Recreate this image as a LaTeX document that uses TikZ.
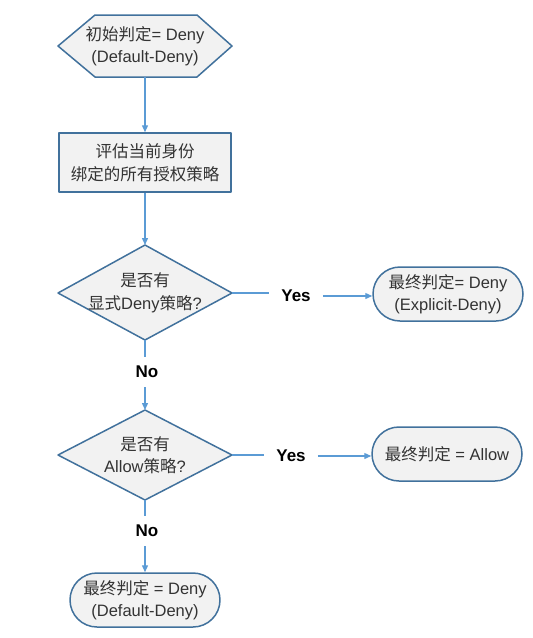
\documentclass[tikz,border=0pt]{standalone}
\usepackage{fontspec}
\setmainfont{Liberation Sans}
\newfontfamily\cjk{Noto Sans CJK SC}
\usetikzlibrary{arrows.meta,calc}
\definecolor{edgec}{HTML}{41719C}
\definecolor{fillc}{HTML}{F2F2F2}
\definecolor{arrc}{HTML}{5B9BD5}
\definecolor{txtc}{HTML}{333333}
\begin{document}
\begin{tikzpicture}[x=1pt,y=-1pt,
  shp/.style={draw=edgec, fill=fillc, line width=1.5pt, line join=round},
  lbl/.style={align=center, text=txtc, font=\fontsize{16.5}{22.5}\selectfont, inner sep=0pt},
  boxn/.style={shp, lbl, rectangle, minimum width=172pt, minimum height=59pt},
  term/.style={shp, lbl, rectangle, rounded corners=27pt, minimum width=150pt, minimum height=54pt},
  conn/.style={draw=arrc, line width=1.3pt},
  arrowc/.style={conn, -{Triangle[length=7pt,width=6pt]}},
  yn/.style={font=\bfseries\fontsize{17}{18}\selectfont, text=black, inner xsep=12pt, inner ysep=9pt}]
\useasboundingbox (0,0) rectangle (533,638);
% start hexagon
\draw[shp] (95,15) -- (197,15) -- (232,46) -- (197,77) -- (95,77) -- (58,46) -- cycle;
\node[lbl] (init) at (145,46) {{\cjk 初始判定}= Deny\\(Default-Deny)};
\coordinate (initS) at (145,77);
% evaluate box
\node[boxn] (eval) at (145,162.5) {{\cjk 评估当前身份}\\{\cjk 绑定的所有授权策略}};
% diamond 1
\draw[shp] (145,245) -- (232,293) -- (145,340) -- (58,293) -- cycle;
\node[lbl] (d1) at (145,293) {{\cjk 是否有}\\{\cjk 显式}Deny{\cjk 策略}?};
\coordinate (d1N) at (145,245);
\coordinate (d1E) at (232,293);
\coordinate (d1S) at (145,340);
% diamond 2
\draw[shp] (145,410) -- (232,455) -- (145,500) -- (58,455) -- cycle;
\node[lbl] (d2) at (145,455) {{\cjk 是否有}\\Allow{\cjk 策略}?};
\coordinate (d2N) at (145,410);
\coordinate (d2E) at (232,455);
\coordinate (d2S) at (145,500);
% terminals
\node[term] (deny1) at (448,294) {{\cjk 最终判定}= Deny\\(Explicit-Deny)};
\node[term] (allow) at (447,454) {{\cjk 最终判定} = Allow};
\node[term] (deny2) at (145,600) {{\cjk 最终判定} = Deny\\(Default-Deny)};
% labels
\node[yn] (yes1) at (296,296) {Yes};
\node[yn] (no1) at (147,372) {No};
\node[yn] (yes2) at (291,456) {Yes};
\node[yn] (no2) at (147,531) {No};
% connectors
\draw[arrowc] (initS) -- (eval.north);
\draw[arrowc] (eval.south) -- (d1N);
\draw[conn] (d1E) -- (d1E -| yes1.west);
\draw[arrowc] (yes1.east) -- (yes1.east -| deny1.west);
\draw[conn] (d1S) -- (d1S |- no1.north);
\draw[arrowc] (no1.south -| d2N) -- (d2N);
\draw[conn] (d2E) -- (d2E -| yes2.west);
\draw[arrowc] (yes2.east) -- (yes2.east -| allow.west);
\draw[conn] (d2S) -- (d2S |- no2.north);
\draw[arrowc] (no2.south -| d2S) -- (deny2.north);
\end{tikzpicture}
\end{document}
